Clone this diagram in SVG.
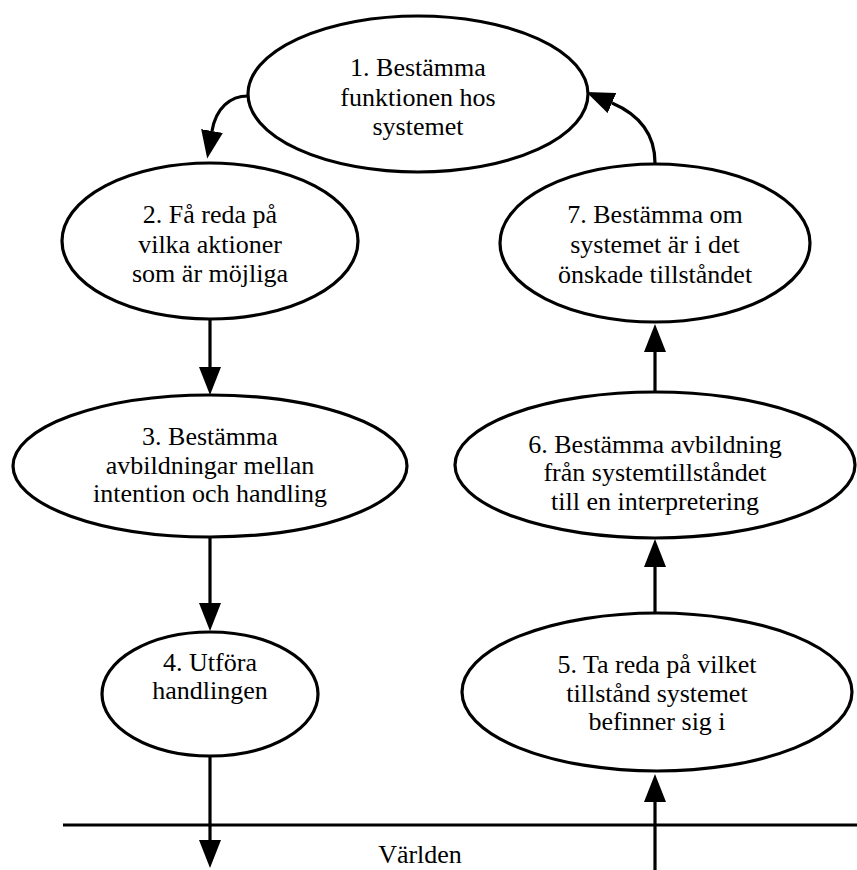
<svg xmlns="http://www.w3.org/2000/svg" width="857" height="870" viewBox="0 0 857 870">
  <style>
    .node ellipse { fill: #ffffff; stroke: #000000; stroke-width: 3.2; }
    .node text, .label { font-family: "Liberation Serif", "Times New Roman", "DejaVu Serif", serif; font-size: 26px; fill: #000000; text-anchor: middle; }
    .edge { fill: none; stroke: #000000; stroke-width: 3.2; }
  </style>
  <defs>
    <marker id="arrow" viewBox="0 0 28 22" refX="0" refY="11" markerWidth="28" markerHeight="22" markerUnits="userSpaceOnUse" orient="auto">
      <path d="M0,0 L28,11 L0,22 Z" fill="#000000"/>
    </marker>
  </defs>

  <!-- world boundary -->
  <g id="world" font-family="Liberation Serif, serif">
    <line x1="63" y1="825" x2="857" y2="825" stroke="#000000" stroke-width="3.2"/>
    <text class="label" x="420" y="863">Världen</text>
  </g>

  <!-- connectors -->
  <g id="connectors">
    <path class="edge" d="M248,96 C230,96 216,108 212,131" marker-end="url(#arrow)"/>
    <path class="edge" d="M210,318 L210,367" marker-end="url(#arrow)"/>
    <path class="edge" d="M210,537 L210,603" marker-end="url(#arrow)"/>
    <path class="edge" d="M210,756 L210,840" marker-end="url(#arrow)"/>
    <path class="edge" d="M655,870 L655,802" marker-end="url(#arrow)"/>
    <path class="edge" d="M655,613 L655,567" marker-end="url(#arrow)"/>
    <path class="edge" d="M655,393 L655,352" marker-end="url(#arrow)"/>
    <path class="edge" d="M655,163 C655,135 640,115 612,103" marker-end="url(#arrow)"/>
  </g>

  <g id="n1" class="node" font-family="Liberation Serif, serif">
    <ellipse cx="418" cy="94" rx="170" ry="78"/>
    <text x="418" y="76">1. Bestämma</text>
    <text x="418" y="106">funktionen hos</text>
    <text x="418" y="135">systemet</text>
  </g>
  <g id="n2" class="node" font-family="Liberation Serif, serif">
    <ellipse cx="210" cy="241" rx="148" ry="78"/>
    <text x="210" y="223">2. Få reda på</text>
    <text x="210" y="253">vilka aktioner</text>
    <text x="210" y="282">som är möjliga</text>
  </g>
  <g id="n3" class="node" font-family="Liberation Serif, serif">
    <ellipse cx="210" cy="466" rx="197" ry="71"/>
    <text x="210" y="445">3. Bestämma</text>
    <text x="210" y="474">avbildningar mellan</text>
    <text x="210" y="502">intention och handling</text>
  </g>
  <g id="n4" class="node" font-family="Liberation Serif, serif">
    <ellipse cx="210" cy="694" rx="108" ry="62"/>
    <text x="210" y="671">4. Utföra</text>
    <text x="210" y="699">handlingen</text>
  </g>
  <g id="n5" class="node" font-family="Liberation Serif, serif">
    <ellipse cx="657" cy="692" rx="195" ry="79"/>
    <text x="657" y="673">5. Ta reda på vilket</text>
    <text x="657" y="702">tillstånd systemet</text>
    <text x="657" y="730">befinner sig i</text>
  </g>
  <g id="n6" class="node" font-family="Liberation Serif, serif">
    <ellipse cx="655" cy="465" rx="200" ry="73"/>
    <text x="655" y="453">6. Bestämma avbildning</text>
    <text x="655" y="481">från systemtillståndet</text>
    <text x="655" y="510">till en interpretering</text>
  </g>
  <g id="n7" class="node" font-family="Liberation Serif, serif">
    <ellipse cx="655" cy="243" rx="155" ry="79"/>
    <text x="655" y="223">7. Bestämma om</text>
    <text x="655" y="253">systemet är i det</text>
    <text x="655" y="283">önskade tillståndet</text>
  </g>
</svg>
